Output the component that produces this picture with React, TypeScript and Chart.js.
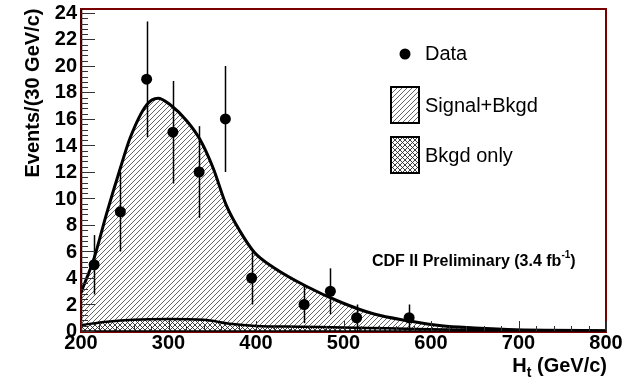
import { useEffect, useRef } from 'react';
import { Chart, registerables } from 'chart.js';

Chart.register(...registerables);

// Observed events per 30 GeV/c bin (bin centres in GeV/c)
const binCenters = [215, 245, 275, 305, 335, 365, 395, 455, 485, 515, 575];
const dataCounts = [5, 9, 19, 15, 12, 16, 4, 2, 3, 1, 1];
const dataErrors = [2.24, 3, 4.36, 3.87, 3.46, 4, 2, 1.41, 1.73, 1, 1];

// Signal + background expectation
const sigX = [200, 215, 229, 245, 256, 275, 288, 302, 321, 336, 351, 366, 382, 398, 420, 458, 497, 535, 574, 612, 650, 688, 730, 800];
const sigY = [2.9, 5.5, 8.8, 12.3, 14.55, 17.07, 17.57, 17.07, 15.85, 14.45, 12.3, 9.5, 7.5, 5.95, 4.8, 3.36, 2.17, 1.28, 0.77, 0.39, 0.23, 0.12, 0.06, 0.02];

// Background-only expectation
const bkgX = [200, 230, 260, 300, 340, 370, 400, 450, 500, 550, 600, 650, 700, 800];
const bkgY = [0.45, 0.7, 0.85, 0.9, 0.85, 0.55, 0.38, 0.32, 0.27, 0.2, 0.14, 0.08, 0.04, 0.01];

const xTicks = [200, 300, 400, 500, 600, 700, 800];
const yTicks = [0, 2, 4, 6, 8, 10, 12, 14, 16, 18, 20, 22, 24];

const X_MIN = 200;
const X_MAX = 800;
const Y_MIN = 0;
const Y_MAX = 24.3;

const FONT = '"Liberation Sans", Arial, Helvetica, sans-serif';
const FRAME_RED = '#7a0000';

function makeHatch(ctx: CanvasRenderingContext2D): CanvasPattern | string {
  const s = 5;
  const c = document.createElement('canvas');
  c.width = s;
  c.height = s;
  const g = c.getContext('2d');
  if (!g) return '#ccc';
  g.fillStyle = '#fff';
  g.fillRect(0, 0, s, s);
  g.strokeStyle = '#555';
  g.lineWidth = 0.9;
  g.beginPath();
  g.moveTo(-1, s + 1);
  g.lineTo(s + 1, -1);
  g.moveTo(-1, 1);
  g.lineTo(1, -1);
  g.moveTo(s - 1, s + 1);
  g.lineTo(s + 1, s - 1);
  g.stroke();
  return ctx.createPattern(c, 'repeat') || '#ccc';
}

function makeCross(ctx: CanvasRenderingContext2D): CanvasPattern | string {
  const s = 5;
  const c = document.createElement('canvas');
  c.width = s;
  c.height = s;
  const g = c.getContext('2d');
  if (!g) return '#888';
  g.fillStyle = '#fff';
  g.fillRect(0, 0, s, s);
  g.strokeStyle = '#2a2a2a';
  g.lineWidth = 0.9;
  g.beginPath();
  g.moveTo(-1, s + 1);
  g.lineTo(s + 1, -1);
  g.moveTo(-1, -1);
  g.lineTo(s + 1, s + 1);
  g.moveTo(-1, 1);
  g.lineTo(1, -1);
  g.moveTo(s - 1, s + 1);
  g.lineTo(s + 1, s - 1);
  g.moveTo(s - 1, -1);
  g.lineTo(s + 1, 1);
  g.moveTo(-1, s - 1);
  g.lineTo(1, s + 1);
  g.stroke();
  return ctx.createPattern(c, 'repeat') || '#888';
}

const errorBarsPlugin = {
  id: 'errorBars',
  afterDatasetsDraw(chart: any) {
    const { ctx, scales } = chart;
    const xs = scales.x;
    const ys = scales.y;
    ctx.save();
    ctx.strokeStyle = '#000';
    ctx.lineWidth = 1.5;
    binCenters.forEach((x, i) => {
      const px = Math.round(xs.getPixelForValue(x)) + 0.5;
      const lo = Math.max(Y_MIN, dataCounts[i] - dataErrors[i]);
      const hi = dataCounts[i] + dataErrors[i];
      ctx.beginPath();
      ctx.moveTo(px, ys.getPixelForValue(lo));
      ctx.lineTo(px, ys.getPixelForValue(hi));
      ctx.stroke();
    });
    ctx.restore();
  },
};

const framePlugin = {
  id: 'frameAxes',
  afterDraw(chart: any) {
    const { ctx, scales, chartArea } = chart;
    const xs = scales.x;
    const ys = scales.y;
    const { left, right, top, bottom } = chartArea;
    const ds = chart.data.datasets;
    ctx.save();

    // frame
    ctx.strokeStyle = FRAME_RED;
    ctx.lineWidth = 2;
    ctx.strokeRect(left, top, right - left, bottom - top + 1);

    // axis lines
    ctx.strokeStyle = '#000';
    ctx.lineWidth = 1.5;
    ctx.beginPath();
    ctx.moveTo(left + 0.5, top);
    ctx.lineTo(left + 0.5, bottom);
    ctx.lineTo(right, bottom);
    ctx.stroke();

    // y ticks (inside the frame)
    ctx.strokeStyle = '#333';
    ctx.lineWidth = 1;
    for (let v = Y_MIN; v <= Y_MAX + 1e-6; v += 0.4) {
      const isMajor = Math.abs(v / 2 - Math.round(v / 2)) < 1e-6;
      const py = Math.round(ys.getPixelForValue(v)) + 0.5;
      ctx.beginPath();
      ctx.moveTo(left, py);
      ctx.lineTo(left + (isMajor ? 14 : 7), py);
      ctx.stroke();
    }
    // x ticks
    for (let v = X_MIN; v <= X_MAX + 1e-6; v += 20) {
      const isMajor = Math.abs(v % 100) < 1e-6;
      const px = Math.round(xs.getPixelForValue(v)) + 0.5;
      ctx.beginPath();
      ctx.moveTo(px, bottom);
      ctx.lineTo(px, bottom - (isMajor ? 10 : 5));
      ctx.stroke();
    }

    // tick labels
    ctx.fillStyle = '#000';
    ctx.font = `bold 20px ${FONT}`;
    ctx.textAlign = 'right';
    ctx.textBaseline = 'middle';
    yTicks.forEach((v) => {
      ctx.fillText(String(v), left - 4, ys.getPixelForValue(v) + 0.5);
    });
    ctx.textAlign = 'center';
    ctx.textBaseline = 'alphabetic';
    xTicks.forEach((v) => {
      ctx.fillText(String(v), xs.getPixelForValue(v), bottom + 18);
    });

    // y title
    ctx.save();
    ctx.translate(33, 93);
    ctx.rotate(-Math.PI / 2);
    ctx.textAlign = 'center';
    ctx.textBaseline = 'middle';
    ctx.font = `bold 20px ${FONT}`;
    ctx.fillText('Events/(30 GeV/c)', 0, 0);
    ctx.restore();

    // x title: H_t (GeV/c), right-aligned to the frame
    {
      ctx.textAlign = 'left';
      ctx.textBaseline = 'alphabetic';
      const big = `bold 20px ${FONT}`;
      const small = `bold 14px ${FONT}`;
      ctx.font = big;
      const wH = ctx.measureText('H').width;
      const wRest = ctx.measureText(' (GeV/c)').width;
      ctx.font = small;
      const wT = ctx.measureText('t').width;
      const baseY = 372;
      let x = right + 1 - (wH + wT + wRest);
      ctx.font = big;
      ctx.fillText('H', x, baseY);
      x += wH;
      ctx.font = small;
      ctx.fillText('t', x, baseY + 5);
      x += wT;
      ctx.font = big;
      ctx.fillText(' (GeV/c)', x, baseY);
    }

    // annotation
    {
      ctx.textAlign = 'left';
      ctx.textBaseline = 'alphabetic';
      const main = `bold 16px ${FONT}`;
      const sup = `bold 10px ${FONT}`;
      let x = 372;
      const by = 266;
      ctx.font = main;
      const t1 = 'CDF II Preliminary (3.4 fb';
      ctx.fillText(t1, x, by);
      x += ctx.measureText(t1).width;
      ctx.font = sup;
      ctx.fillText('-1', x, by - 8);
      x += ctx.measureText('-1').width;
      ctx.font = main;
      ctx.fillText(')', x, by);
    }

    // legend
    {
      ctx.font = `20px ${FONT}`;
      ctx.textAlign = 'left';
      ctx.textBaseline = 'middle';
      ctx.fillStyle = '#000';
      // Data marker
      ctx.beginPath();
      ctx.arc(405, 54, 5.5, 0, Math.PI * 2);
      ctx.fill();
      ctx.fillText(ds[0].label, 425, 54);

      const boxes = [
        { ds: ds[2], y: 87 },
        { ds: ds[1], y: 137 },
      ];
      boxes.forEach((b) => {
        ctx.fillStyle = b.ds.backgroundColor;
        ctx.fillRect(391, b.y, 28, 36);
        ctx.strokeStyle = '#000';
        ctx.lineWidth = 2;
        ctx.strokeRect(391, b.y, 28, 36);
        ctx.fillStyle = '#000';
        ctx.fillText(b.ds.label, 425, b.y + 19);
      });
    }

    ctx.restore();
  },
};

export default function App() {
  const canvasRef = useRef<HTMLCanvasElement | null>(null);

  useEffect(() => {
    const canvas = canvasRef.current;
    if (!canvas) return;
    const ctx = canvas.getContext('2d');
    if (!ctx) return;
    const hatch = makeHatch(ctx);
    const cross = makeCross(ctx);

    const chart = new Chart(canvas, {
      type: 'line',
      data: {
        datasets: [
          {
            type: 'scatter',
            label: 'Data',
            data: binCenters.map((x, i) => ({ x, y: dataCounts[i] })),
            pointRadius: 5.5,
            pointBackgroundColor: '#000',
            pointBorderWidth: 0,
            showLine: false,
            order: 1,
          } as any,
          {
            label: 'Bkgd only',
            data: bkgX.map((x, i) => ({ x, y: bkgY[i] })),
            borderColor: '#000',
            borderWidth: 2.5,
            backgroundColor: cross,
            fill: 'origin',
            pointRadius: 0,
            cubicInterpolationMode: 'monotone',
            order: 2,
          },
          {
            label: 'Signal+Bkgd',
            data: sigX.map((x, i) => ({ x, y: sigY[i] })),
            borderColor: '#000',
            borderWidth: 3,
            backgroundColor: hatch,
            fill: 'origin',
            pointRadius: 0,
            cubicInterpolationMode: 'monotone',
            order: 3,
          },
        ],
      },
      options: {
        animation: false,
        responsive: false,
        events: [],
        layout: { padding: { left: 81, right: 22, top: 9, bottom: 51 } },
        scales: {
          x: { type: 'linear', min: X_MIN, max: X_MAX, display: false },
          y: { type: 'linear', min: Y_MIN, max: Y_MAX, display: false },
        },
        plugins: {
          legend: { display: false },
          tooltip: { enabled: false },
        },
      },
      plugins: [errorBarsPlugin, framePlugin],
    });

    return () => chart.destroy();
  }, []);

  return (
    <div style={{ position: 'fixed', left: 0, top: 0, width: 628, height: 382, background: '#fff' }}>
      <canvas ref={canvasRef} width={628} height={382} style={{ display: 'block' }} />
    </div>
  );
}
